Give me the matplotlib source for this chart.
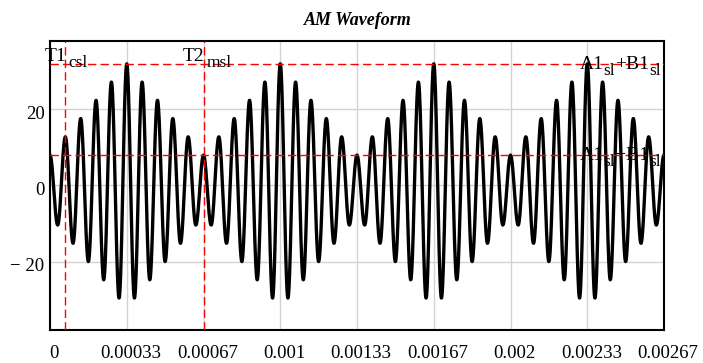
import numpy as np
import matplotlib
matplotlib.use("Agg")
import matplotlib.pyplot as plt
import matplotlib.transforms as mtransforms

plt.rcParams['font.family'] = ['Liberation Serif', 'DejaVu Serif']

# extrema of the waveform, one every half carrier period (1/30000 s)
one_period = [8, -10.4, 12.8, -15.2, 17.6, -20, 22.4, -24.8, 27.2, -29.6,
              32, -29.6, 27.2, -24.8, 22.4, -20, 17.6, -15.2, 12.8, -10.4]
extrema = one_period * 4 + [8]
half_period = 1 / 30000

# marker values
T1_csl = 1 / 15000
T2_msl = 2 / 3000
A_plus_B = 32
A_minus_B = 8

xticks = [0, 1/3000, 2/3000, 3/3000, 4/3000, 5/3000, 6/3000, 7/3000, 8/3000]
xtick_labels = ['0', '0.00033', '0.00067', '0.001', '0.00133', '0.00167',
                '0.002', '0.00233', '0.00267']
yticks = [-20, 0, 20]
ytick_labels = ['\u2212 20', '0', '20']

# smooth curve between extrema (half-cosine between neighbours)
t_all, y_all = [], []
for k in range(len(extrema) - 1):
    a, b = extrema[k], extrema[k + 1]
    s = np.linspace(0, 1, 40, endpoint=False)
    t_all.append((k + s) * half_period)
    y_all.append((a + b) / 2 + (a - b) / 2 * np.cos(np.pi * s))
t_all.append([(len(extrema) - 1) * half_period])
y_all.append([extrema[-1]])
t = np.concatenate(t_all)
y = np.concatenate(y_all)

W, H = 703, 363
fig = plt.figure(figsize=(W / 100, H / 100), dpi=100)
ax = fig.add_axes([50/W, 33/H, 614/W, 289/H])

ax.plot(t, y, color='black', lw=2.4, zorder=3)

dash = (0, (6, 3))
ax.axhline(A_plus_B, color='red', ls=dash, lw=1.0, zorder=4)
ax.axhline(A_minus_B, color='red', ls=dash, lw=1.0, zorder=4)
ax.axvline(T1_csl, color='red', ls=dash, lw=1.0, zorder=4)
ax.axvline(T2_msl, color='red', ls=dash, lw=1.0, zorder=4)

ax.set_xlim(0, 8/3000)
ax.set_ylim(-38, 38)
ax.set_xticks(xticks)
ax.set_xticklabels(xtick_labels, fontsize=13.5)
ax.set_yticks(yticks)
ax.set_yticklabels(ytick_labels, fontsize=13.5)
ax.tick_params(length=0, pad=4)
ax.tick_params(axis='x', pad=11)
offset = mtransforms.ScaledTranslation(4/100, 0, fig.dpi_scale_trans)
for lab in ax.get_xticklabels():
    lab.set_transform(lab.get_transform() + offset)
offset_y = mtransforms.ScaledTranslation(0, -3/100, fig.dpi_scale_trans)
for lab in ax.get_yticklabels():
    lab.set_transform(lab.get_transform() + offset_y)

ax.grid(True, color='#d3d3d3', lw=1.0)
ax.set_axisbelow(True)
for sp in ax.spines.values():
    sp.set_linewidth(1.5)

# Mathcad-style labels with big subscripts, laid out piece by piece in pixels
renderer = fig.canvas.get_renderer()
ident = mtransforms.IdentityTransform()
MAIN, SUB, SUB_DROP = 14, 12.5, 6


def widths(pieces):
    out = []
    for s, is_sub in pieces:
        tmp = fig.text(0, 0, s, transform=ident, fontsize=SUB if is_sub else MAIN)
        out.append(tmp.get_window_extent(renderer).width)
        tmp.remove()
    return out


def place(pieces, x0, base):
    x = x0
    for (s, is_sub), w in zip(pieces, widths(pieces)):
        yb = base - SUB_DROP if is_sub else base
        fig.text(x, yb, s, transform=ident, fontsize=SUB if is_sub else MAIN,
                 va='baseline', ha='left', zorder=5)
        x += w


top_px = ax.transAxes.transform((0, 1))[1]
right_px = ax.transAxes.transform((1, 0))[0]

for name, sub, tx in [('T1', 'csl', T1_csl), ('T2', 'msl', T2_msl)]:
    xl = ax.transData.transform((tx, 0))[0]
    w_main = widths([(name, False)])[0]
    place([(name, False)], xl - w_main + 1, top_px - 20)
    place([(sub, True)], xl + 3, top_px - 20)

for sign, val in [('+', A_plus_B), ('\u2212', A_minus_B)]:
    pieces = [('A1', False), ('sl', True), (sign + 'B1', False), ('sl', True)]
    total = sum(widths(pieces))
    yl = ax.transData.transform((0, val))[1]
    place(pieces, right_px - 3 - total, yl - 5)

fig.text(358, H - 25, 'AM Waveform', transform=ident, ha='center', va='baseline',
         fontsize=13, fontweight='bold', fontstyle='italic')

fig.savefig('out.png', dpi=100)
